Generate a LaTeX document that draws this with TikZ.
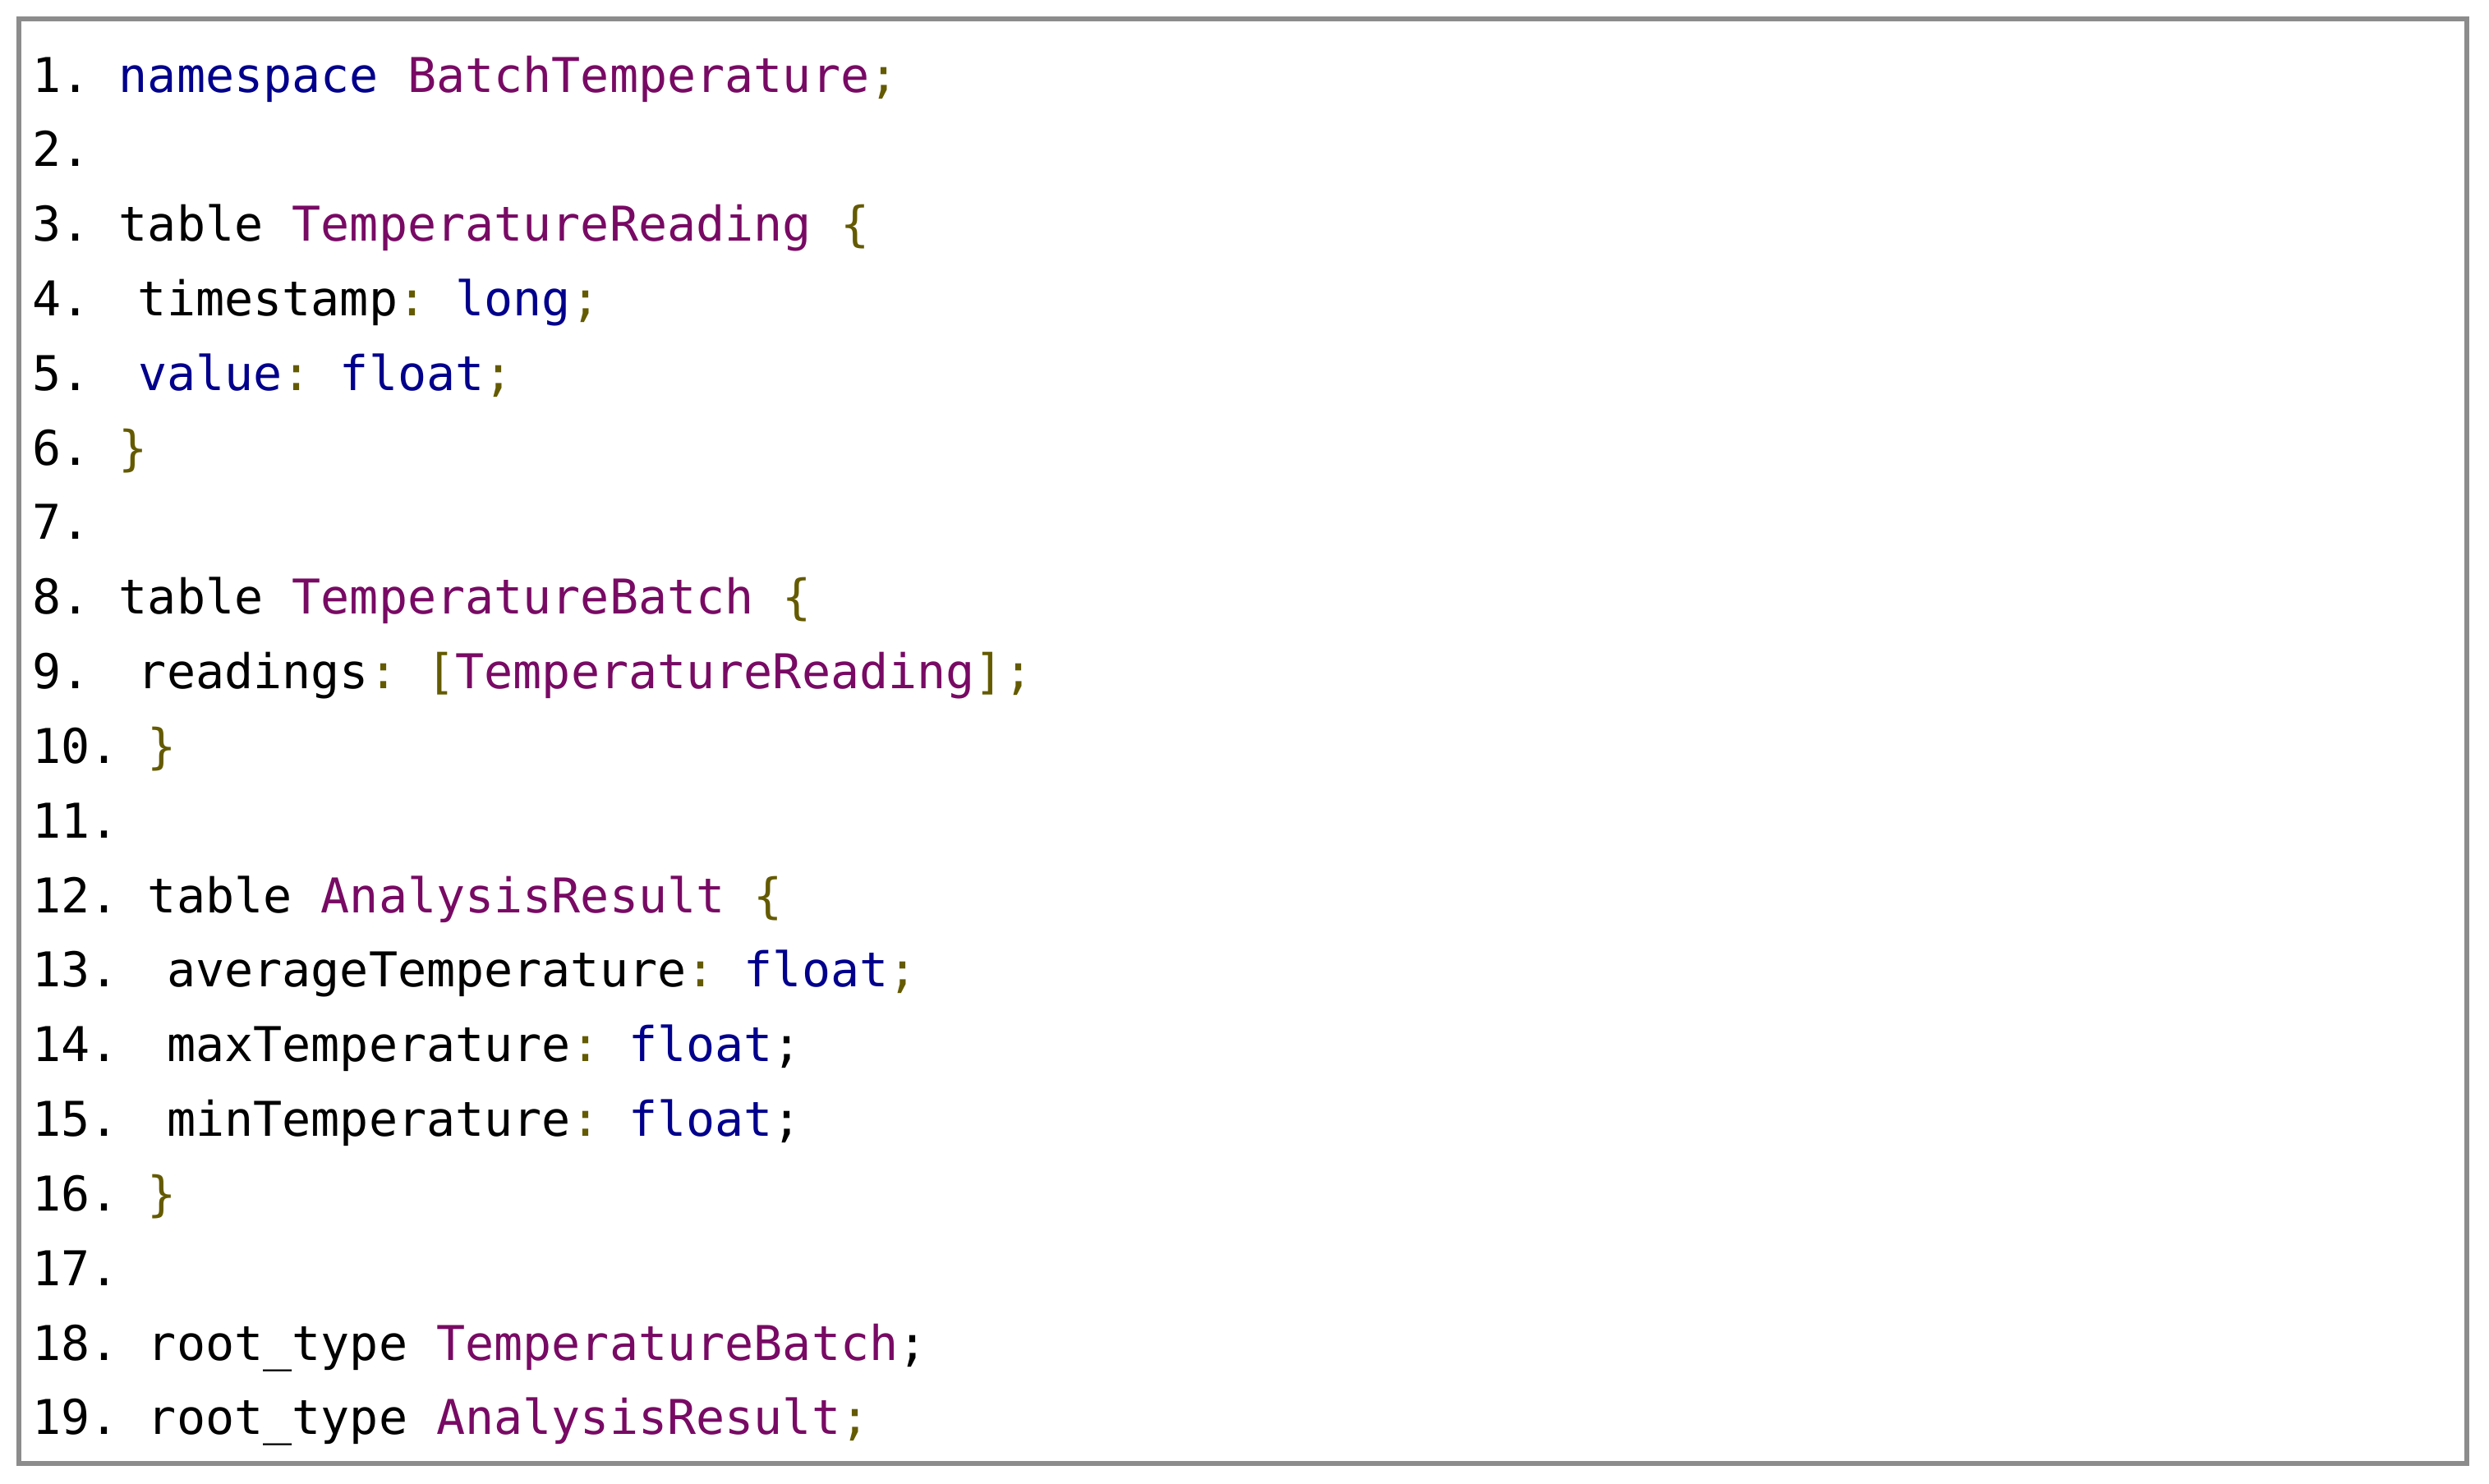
\documentclass[tikz,border=0pt]{standalone}
\usepackage{fontspec}
\setmonofont{DejaVu Sans Mono}
\definecolor{kw}{RGB}{0,0,140}
\definecolor{ty}{RGB}{120,10,100}
\definecolor{pu}{RGB}{100,90,0}
\definecolor{fr}{RGB}{140,140,140}
\newcommand{\ck}[1]{\textcolor{kw}{#1}}
\newcommand{\ct}[1]{\textcolor{ty}{#1}}
\newcommand{\cp}[1]{\textcolor{pu}{#1}}
\begin{document}
\begin{tikzpicture}[x=1pt,y=1pt,
  ln/.style={anchor=base west,inner sep=0pt,font=\ttfamily\fontsize{15.1}{18}\selectfont}]
\useasboundingbox (0,0) rectangle (784,467.5);
\draw[fr,line width=1.5pt] (6,6.5) rectangle (777,461.5);
\def\y#1{467.5-29-(#1-1)*23.5}
\def\ind{\hspace{6pt}}
\node[ln] (l1) at (10,{\y{1}}) {1. \ck{namespace} \ct{BatchTemperature}\cp{;}};
\node[ln] (l2) at (10,{\y{2}}) {2.};
\node[ln] (l3) at (10,{\y{3}}) {3. table \ct{TemperatureReading} \cp{\{}};
\node[ln] (l4) at (10,{\y{4}}) {4. \ind timestamp\cp{:} \ck{long}\cp{;}};
\node[ln] (l5) at (10,{\y{5}}) {5. \ind\ck{value}\cp{:} \ck{float}\cp{;}};
\node[ln] (l6) at (10,{\y{6}}) {6. \cp{\}}};
\node[ln] (l7) at (10,{\y{7}}) {7.};
\node[ln] (l8) at (10,{\y{8}}) {8. table \ct{TemperatureBatch} \cp{\{}};
\node[ln] (l9) at (10,{\y{9}}) {9. \ind readings\cp{:} \cp{[}\ct{TemperatureReading}\cp{];}};
\node[ln] (l10) at (10,{\y{10}}) {10. \cp{\}}};
\node[ln] (l11) at (10,{\y{11}}) {11.};
\node[ln] (l12) at (10,{\y{12}}) {12. table \ct{AnalysisResult} \cp{\{}};
\node[ln] (l13) at (10,{\y{13}}) {13. \ind averageTemperature\cp{:} \ck{float}\cp{;}};
\node[ln] (l14) at (10,{\y{14}}) {14. \ind maxTemperature\cp{:} \ck{float};};
\node[ln] (l15) at (10,{\y{15}}) {15. \ind minTemperature\cp{:} \ck{float};};
\node[ln] (l16) at (10,{\y{16}}) {16. \cp{\}}};
\node[ln] (l17) at (10,{\y{17}}) {17.};
\node[ln] (l18) at (10,{\y{18}}) {18. root\_type \ct{TemperatureBatch};};
\node[ln] (l19) at (10,{\y{19}}) {19. root\_type \ct{AnalysisResult}\cp{;}};
\end{tikzpicture}
\end{document}
